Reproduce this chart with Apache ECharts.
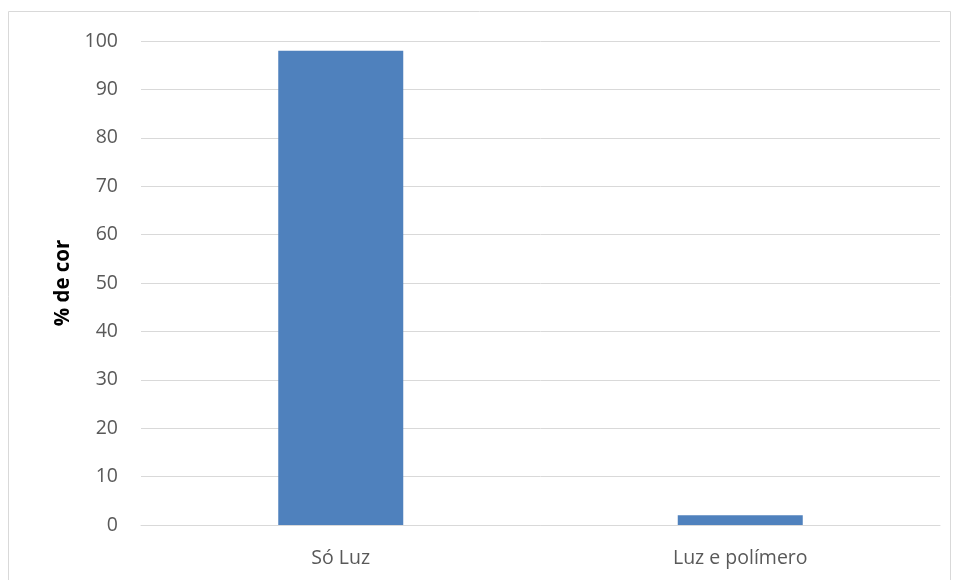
<!DOCTYPE html>
<html><head><meta charset="utf-8">
<script src="https://cdn.jsdelivr.net/npm/echarts@6/dist/echarts.min.js"></script>
<style>html,body{margin:0;padding:0;background:#fff}#c{width:958px;height:580px}</style>
</head><body><div id="c"></div>
<script>
const categories = ['Só Luz', 'Luz e polímero'];
const values = [98, 2];
const yTicks = [0, 10, 20, 30, 40, 50, 60, 70, 80, 90, 100];
const yName = '% de cor';

const chart = echarts.init(document.getElementById('c'));
chart.setOption({
  animation: false,
  graphic: [{type:'rect', shape:{x:8.5, y:11.5, width:942, height:600}, style:{fill:'none', stroke:'#d9d9d9', lineWidth:1}, z:-1}],
  grid: {left:141, right:18, top:41, bottom:55},
  xAxis: {
    type:'category', data:categories,
    axisLine:{lineStyle:{color:'#d9d9d9'}}, axisTick:{show:false},
    axisLabel:{color:'#595959', fontSize:19.5, fontFamily:'Open Sans', margin:23}
  },
  yAxis: {
    type:'value', min:yTicks[0], max:yTicks[yTicks.length-1], interval:10,
    name:yName, nameLocation:'middle', nameGap:66, nameRotate:90,
    nameTextStyle:{color:'#000', fontSize:20.5, fontWeight:'bold', fontFamily:'Open Sans'},
    axisLine:{show:false}, axisTick:{show:false},
    splitLine:{lineStyle:{color:'#d9d9d9'}},
    axisLabel:{color:'#595959', fontSize:19.5, fontFamily:'Open Sans', margin:23}
  },
  series: [{type:'bar', data:values, barWidth:125, itemStyle:{color:'#4f81bd'}}]
});
</script></body></html>
